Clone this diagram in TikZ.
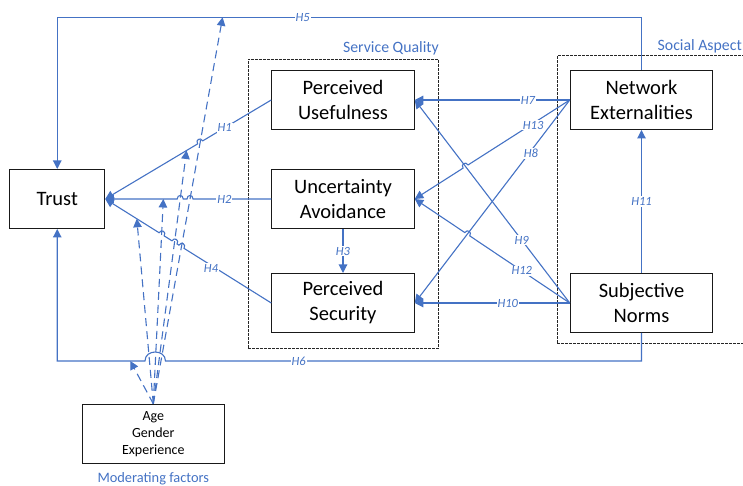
\documentclass[tikz,border=0pt]{standalone}
\usepackage{fontspec}
\setmainfont{Carlito}
\usetikzlibrary{arrows.meta,positioning,calc,fit,intersections}
\definecolor{hblue}{RGB}{68,114,196}

\begin{document}
\begin{tikzpicture}[x=1pt, y=1pt, >={Triangle[length=8.5pt,width=8.5pt]},
    box/.style={draw=black!90, line width=1pt, fill=white, align=center, minimum width=142.5pt, minimum height=59pt, inner sep=2pt, font=\fontsize{20.5pt}{25pt}\selectfont},
    link/.style={draw=hblue, line width=1.1pt},
    modlink/.style={link, dash pattern=on 8pt off 5pt, ->},
    lbl/.style={fill=white, inner sep=1pt, text=hblue, font=\fontsize{12.5pt}{14pt}\selectfont\itshape},
    grp/.style={draw=black!85, line width=0.7pt, dash pattern=on 3pt off 1pt, inner sep=0pt},
    grplbl/.style={text=hblue, inner sep=0pt, font=\fontsize{15.8pt}{18pt}\selectfont},
    hop/.style={bend left=90, looseness=2}]

  \useasboundingbox (0,0) rectangle (743,486);

  % constructs
  \node (pu) [box] at (343,386) {Perceived\\Usefulness};
  \node (ua) [box, below=39pt of pu] {Uncertainty\\Avoidance};
  \node (ps) [box, below=44pt of ua] {Perceived\\Security};
  \node (ne) [box, right=155pt of pu] {Network\\Externalities};
  \node (sn) [box, right=155pt of ps] {Subjective\\Norms};
  \node (trust) [box, minimum width=95pt, left=166pt of ua] {Trust};
  \node (age) [box, font=\fontsize{14pt}{17pt}\selectfont] at (153.3,52.2) {Age\\Gender\\Experience};

  % groups
  \node (sq) [grp, fit={($(pu.north west)+(-23.4,10.7)$) ($(ps.south east)+(24,-15)$)}] {};
  \node (sa) [grp, fit={($(ne.north west)+(-12.3,14.7)$) ($(sn.south east)+(60,-10)$)}] {};
  \node [grplbl, anchor=base east] at ($(sq.north east)+(0,6)$) {Service Quality};
  \node [grplbl, anchor=base east] at (742,435.3) {Social Aspect};
  \node [grplbl, font=\fontsize{14.4pt}{17pt}\selectfont, anchor=base] at ($(age.south)+(0,-19)$) {Moderating factors};

  % rows of H5 and H6
  \coordinate (toprow) at (0,468.7);
  \coordinate (botrow) at (0,125);

  % where the moderating arrows land
  \coordinate (m5) at ($(trust.north |- toprow)!0.283!(ne.north |- toprow)$);
  \coordinate (m1) at ($(trust.east)!0.49!(pu.west)$);
  \coordinate (m2) at ($(trust.east)!0.35!(ua.west)$);
  \coordinate (m4) at ($(trust.east)!0.19!(ps.west)$);
  \coordinate (m6) at ($(trust.south |- botrow)!0.125!(sn.south |- botrow)$);

  % crossings, for the line jumps
  \path[name path=d5] (age.north) -- (m5);
  \path[name path=d1] (age.north) -- (m1);
  \path[name path=d2] (age.north) -- (m2);
  \path[name path=d4] (age.north) -- (m4);
  \path[name path=l1] (trust.east) -- (pu.west);
  \path[name path=l2] (trust.east) -- (ua.west);
  \path[name path=l4] (trust.east) -- (ps.west);
  \path[name path=l6] (trust.south |- botrow) -- (sn.south |- botrow);
  \path[name path=l13] (ne.west) -- (ua.east);
  \path[name path=l9] (sn.west) -- (pu.east);
  \path[name path=l12] (sn.west) -- (ua.east);
  \path[name path=l8] (ne.west) -- (ps.east);
  \path[name intersections={of=d5 and l1, by=j15}];
  \path[name intersections={of=d1 and l2, by=j21}];
  \path[name intersections={of=d5 and l2, by=j25}];
  \path[name intersections={of=d2 and l4, by=j42}];
  \path[name intersections={of=d1 and l4, by=j41}];
  \path[name intersections={of=d5 and l4, by=j45}];
  \path[name intersections={of=d4 and l6, by=j64}];
  \path[name intersections={of=d5 and l6, by=j65}];
  \path[name intersections={of=l9 and l13, by=j13}];
  \path[name intersections={of=l8 and l12, by=j12}];

  % hypotheses
  \draw[link, ->] (ne.north) -- (ne.north |- toprow) -- node[lbl, pos=0.58] {H5} (trust.north |- toprow) -- (trust.north);
  \draw[link, <-] (trust.south) -- (trust.south |- botrow) -- ($(j64)+(-4.5,0)$) to[bend left=90, looseness=1.5] ($(j65)+(4.5,0)$)
    -- node[lbl, pos=0.28] {H6} (sn.south |- botrow) -- (sn.south);
  \draw[link, <-] (trust.east) -- ($(j15)!3pt!(trust.east)$) to[hop] ($(j15)!3pt!(pu.west)$) -- node[lbl, pos=0.32] {H1} (pu.west);
  \draw[link, <-] (trust.east) -- ($(j21)!3pt!(trust.east)$) to[hop] ($(j21)!3pt!(ua.west)$)
    -- ($(j25)!3pt!(trust.east)$) to[hop] ($(j25)!3pt!(ua.west)$) -- node[lbl, pos=0.4] {H2} (ua.west);
  \draw[link, <-] (trust.east) -- ($(j42)!3pt!(trust.east)$) to[hop] ($(j42)!3pt!(ps.west)$)
    -- ($(j41)!3pt!(trust.east)$) to[hop] ($(j41)!3pt!(ps.west)$)
    -- ($(j45)!3pt!(trust.east)$) to[hop] ($(j45)!3pt!(ps.west)$) -- node[lbl, pos=0.31, yshift=-3pt] {H4} (ps.west);
  \draw[link, ->] (ua.south) -- node[lbl] {H3} (ps.north);
  \draw[link, ->] (ne.west) -- node[lbl, pos=0.27] {H7} (pu.east);
  \draw[link, ->] (ne.west) -- node[lbl, pos=0.25, yshift=-3pt] {H8} (ps.east);
  \draw[link, <-] (ua.east) -- ($(j13)!3pt!(ua.east)$) to[hop] ($(j13)!3pt!(ne.west)$) -- node[lbl, pos=0.64, yshift=-2pt] {H13} (ne.west);
  \draw[link, ->] (sn.west) -- node[lbl, pos=0.31] {H9} (pu.east);
  \draw[link, ->] (sn.west) -- node[lbl, pos=0.4] {H10} (ps.east);
  \draw[link, <-] (ua.east) -- ($(j12)!3pt!(ua.east)$) to[hop] ($(j12)!3pt!(sn.west)$) -- node[lbl, pos=0.52] {H12} (sn.west);
  \draw[link, ->] (sn.north) -- node[lbl] {H11} (ne.south);

  % moderating factors
  \draw[modlink] (age.north) -- (m5);
  \draw[modlink] (age.north) -- (m1);
  \draw[modlink] (age.north) -- (m2);
  \draw[modlink] (age.north) -- (m4);
  \draw[modlink] (age.north) -- (m6);
\end{tikzpicture}
\end{document}
